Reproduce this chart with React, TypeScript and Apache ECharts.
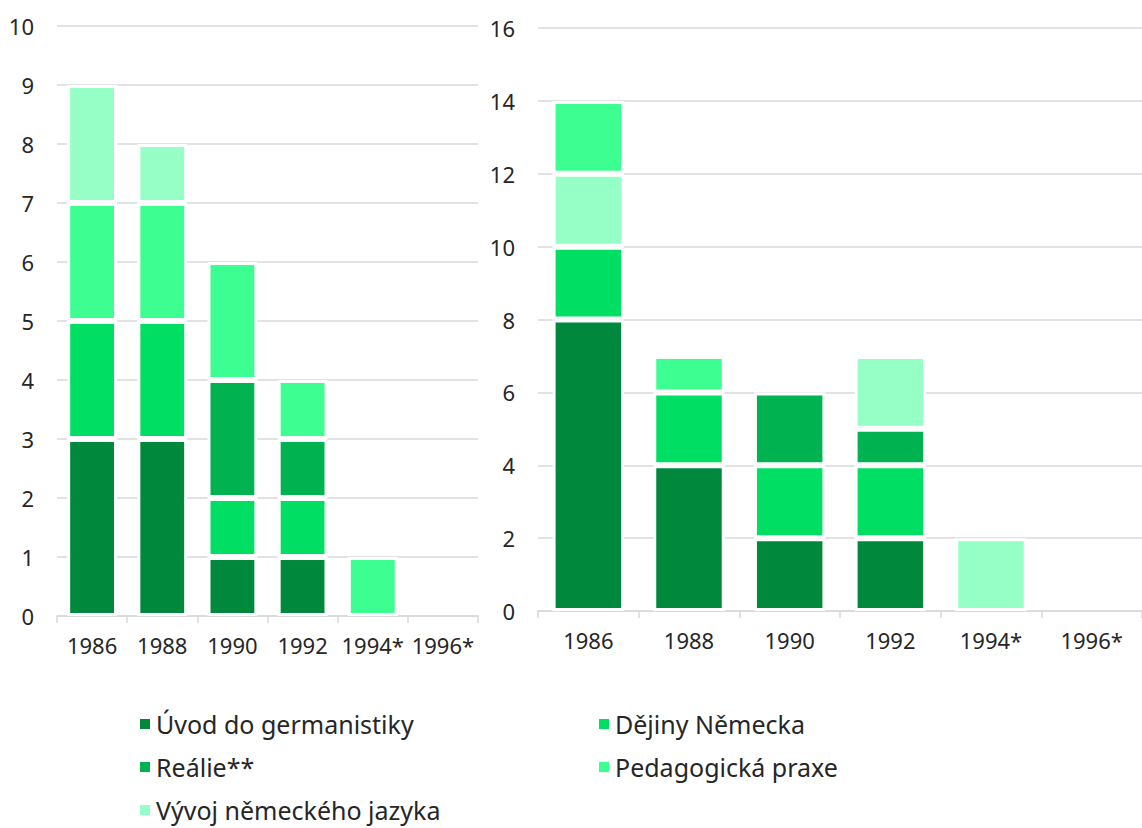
import React, { useEffect, useRef } from "react";
import * as echarts from "echarts";

const categories = ["1986", "1988", "1990", "1992", "1994*", "1996*"];

const seriesNames = [
  "Úvod do germanistiky",
  "Dějiny Německa",
  "Reálie**",
  "Pedagogická praxe",
  "Vývoj německého jazyka",
];

const seriesColors: Record<string, string> = {
  "Úvod do germanistiky": "#00893d",
  "Dějiny Německa": "#00df63",
  "Reálie**": "#00b350",
  "Pedagogická praxe": "#3dff91",
  "Vývoj německého jazyka": "#96ffc6",
};

// Left chart values
const leftUvod = [3, 3, 1, 1, 0, 0];
const leftDejiny = [2, 2, 1, 1, 0, 0];
const leftRealie = [0, 0, 2, 1, 0, 0];
const leftPraxe = [2, 2, 2, 1, 1, 0];
const leftVyvoj = [2, 1, 0, 0, 0, 0];

// Right chart values
const rightUvod = [8, 4, 2, 2, 0, 0];
const rightDejiny = [2, 2, 2, 2, 0, 0];
const rightRealie = [0, 0, 2, 1, 0, 0];
const rightVyvoj = [2, 0, 0, 2, 2, 0];
const rightPraxe = [2, 1, 0, 0, 0, 0];

const leftYTicks = { min: 0, max: 10, interval: 1 };
const rightYTicks = { min: 0, max: 16, interval: 2 };

const FONT = "'Noto Sans', sans-serif";
const TEXT = "#262626";
const GRIDLINE = "#d9d9d9";

export default function App() {
  const ref = useRef<HTMLDivElement>(null);

  useEffect(() => {
    if (!ref.current) return;
    const chart = echarts.init(ref.current, undefined, { renderer: "svg" });

    const toData = (arr: number[]) => arr.map((v) => (v === 0 ? null : v));

    const mkBar = (name: string, data: number[], idx: number, stack: string) => ({
      name,
      type: "bar",
      stack,
      xAxisIndex: idx,
      yAxisIndex: idx,
      data: toData(data),
      barCategoryGap: "29%",
      itemStyle: {
        color: seriesColors[name],
        borderColor: "#ffffff",
        borderWidth: 3,
      },
    });

    const leftSeries = [
      mkBar(seriesNames[0], leftUvod, 0, "L"),
      mkBar(seriesNames[1], leftDejiny, 0, "L"),
      mkBar(seriesNames[2], leftRealie, 0, "L"),
      mkBar(seriesNames[3], leftPraxe, 0, "L"),
      mkBar(seriesNames[4], leftVyvoj, 0, "L"),
    ];
    const rightSeries = [
      mkBar(seriesNames[0], rightUvod, 1, "R"),
      mkBar(seriesNames[1], rightDejiny, 1, "R"),
      mkBar(seriesNames[2], rightRealie, 1, "R"),
      mkBar(seriesNames[4], rightVyvoj, 1, "R"),
      mkBar(seriesNames[3], rightPraxe, 1, "R"),
    ];

    const xAxisBase = (gridIndex: number) => ({
      type: "category",
      gridIndex,
      data: categories,
      axisLine: { show: true, lineStyle: { color: GRIDLINE, width: 1.5 } },
      axisTick: { show: true, length: 7, lineStyle: { color: GRIDLINE, width: 1.5 } },
      axisLabel: { color: TEXT, fontSize: 22, fontFamily: FONT, margin: 18, interval: 0 },
    });

    const yAxisBase = (gridIndex: number, t: { min: number; max: number; interval: number }) => ({
      type: "value",
      gridIndex,
      min: t.min,
      max: t.max,
      interval: t.interval,
      axisLine: { show: false },
      axisTick: { show: false },
      splitLine: { show: true, lineStyle: { color: GRIDLINE, width: 1.5 } },
      axisLabel: { color: TEXT, fontSize: 22, fontFamily: FONT, margin: 23 },
    });

    const legendBase = {
      orient: "vertical",
      itemWidth: 12,
      itemHeight: 12,
      itemGap: 17,
      icon: "rect",
      height: 140,
      padding: 0,
      textStyle: { color: TEXT, fontSize: 25, fontFamily: FONT, lineHeight: 26 },
      selectedMode: false,
    };

    chart.setOption({
      animation: false,
      backgroundColor: "#ffffff",
      grid: [
        { left: 57, top: 26, width: 421, height: 590 },
        { left: 538, top: 28, width: 610, height: 583 },
      ],
      xAxis: [xAxisBase(0), xAxisBase(1)],
      yAxis: [yAxisBase(0, leftYTicks), yAxisBase(1, rightYTicks)],
      legend: [
        {
          ...legendBase,
          left: 138,
          top: 711,
          data: [seriesNames[0], seriesNames[2], seriesNames[4]],
        },
        {
          ...legendBase,
          left: 597,
          top: 711,
          data: [seriesNames[1], seriesNames[3]],
        },
      ],
      series: [...leftSeries, ...rightSeries],
    });

    return () => chart.dispose();
  }, []);

  return (
    <div
      ref={ref}
      style={{ position: "fixed", left: 0, top: 0, width: 1142, height: 828, background: "#fff" }}
    />
  );
}
